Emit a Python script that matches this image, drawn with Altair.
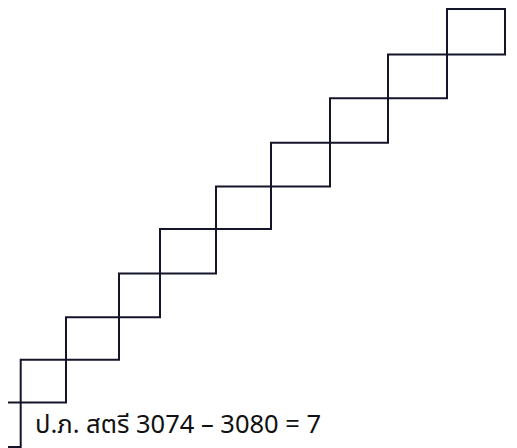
import altair as alt
import pandas as pd

# Cell boundaries (pixel-like units)
x_edges = [-26, 20.7, 66, 119, 160, 216, 271, 330, 388, 447, 505]
y_edges = [447, 402, 359, 316, 272, 227, 184, 140, 95, 51, 5]

label_text = ["ป.ภ. สตรี 3074 – 3080 = 7"]
label_x = [35]
label_y = [433]

cells = pd.DataFrame({
    "x1": x_edges[:-1],
    "x2": x_edges[1:],
    "yb": y_edges[:-1],
    "yt": y_edges[1:],
})

xs = alt.Scale(domain=[8, 509], nice=False, zero=False)
ys = alt.Scale(domain=[4, 448], nice=False, zero=False, reverse=True)

rects = alt.Chart(cells).mark_rect(
    fill="transparent", stroke="#15152a", strokeWidth=2, clip=True
).encode(
    x=alt.X("x1:Q", scale=xs, axis=None),
    x2="x2:Q",
    y=alt.Y("yb:Q", scale=ys, axis=None),
    y2="yt:Q",
)

lab = pd.DataFrame({"t": label_text, "x": label_x, "y": label_y})
text = alt.Chart(lab).mark_text(
    align="left", baseline="alphabetic", fontSize=25.5,
    font="Noto Sans Thai, Tahoma, Noto Sans, sans-serif", color="#111111"
).encode(
    x=alt.X("x:Q", scale=xs, axis=None),
    y=alt.Y("y:Q", scale=ys, axis=None),
    text="t:N",
)

chart = (rects + text).properties(
    width=501, height=440, padding=0, autosize="none"
).configure_view(stroke=None)

chart.save("out.html", embed_options={"renderer": "svg", "actions": False})
